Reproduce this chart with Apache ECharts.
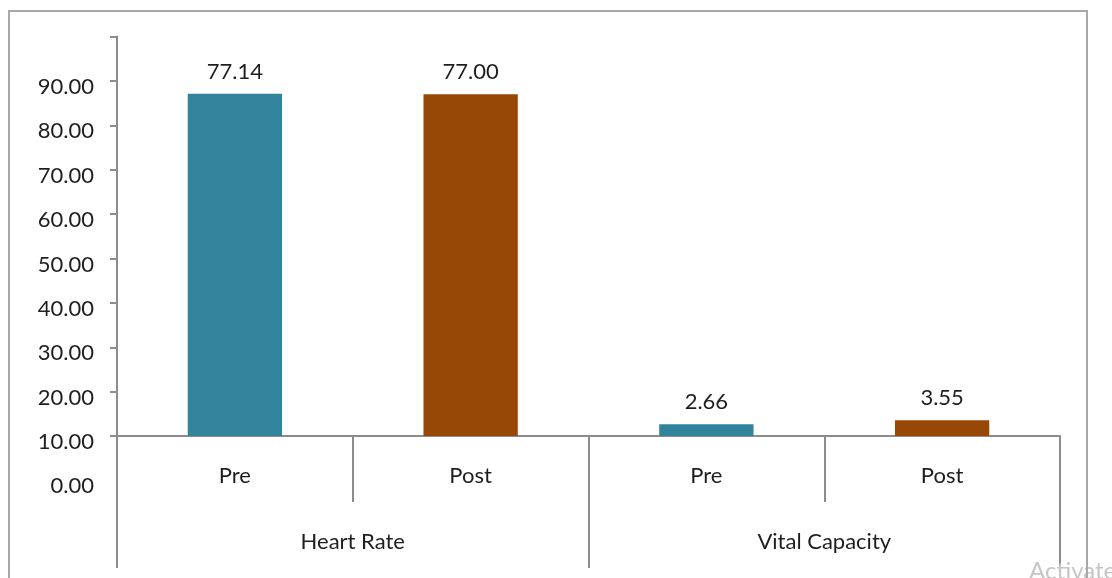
<!DOCTYPE html>
<html>
<head>
<meta charset="utf-8">
<script src="https://cdn.jsdelivr.net/npm/echarts@6/dist/echarts.min.js"></script>
<style>
  html, body { margin: 0; padding: 0; background: #fff; }
  #chart { width: 1112px; height: 578px; }
</style>
</head>
<body>
<div id="chart"></div>
<script>
// Measures and their Pre/Post sessions
const groups = ['Heart Rate', 'Vital Capacity'];
const sessions = ['Pre', 'Post', 'Pre', 'Post'];
const values = [77.14, 77.00, 2.66, 3.55];
const sessionColors = { Pre: '#31849b', Post: '#974806' };

// The category axis crosses the value axis at 10, so bars grow from there.
const crossAt = 10;
const yTickLabels = ['0.00', '10.00', '20.00', '30.00', '40.00', '50.00', '60.00', '70.00', '80.00', '90.00'];
const yTickValues = [0, 10, 20, 30, 40, 50, 60, 70, 80, 90, 100];

const axisGrey = '#8c8c8c';
const textColor = '#1e1e1e';
const font = 'Lato, "Open Sans", sans-serif';
const fontSize = 22;

// plot area: value range spans gridTop..(578 - gridBottom)
const gridTop = 36.6;
const gridBottom = 97.6;
const plotHeight = 578 - gridTop - gridBottom;
const yMin = yTickValues[0] - crossAt;
const yMax = yTickValues[yTickValues.length - 1] - crossAt;
// lift the category axes from the plot floor up to the crossing value
const crossLift = -plotHeight * (0 - yMin) / (yMax - yMin);

const chart = echarts.init(document.getElementById('chart'), null, { renderer: 'canvas' });

chart.setOption({
  animation: false,
  backgroundColor: '#ffffff',
  textStyle: { fontFamily: font },
  grid: {
    left: 117, right: 52, top: gridTop, bottom: gridBottom,
    containLabel: false, outerBoundsMode: 'none'
  },
  xAxis: [
    {
      type: 'category',
      data: sessions,
      position: 'bottom',
      offset: crossLift,
      axisLine: { onZero: false, lineStyle: { color: axisGrey, width: 2 } },
      axisTick: { show: true, interval: 0, length: 66, lineStyle: { color: axisGrey, width: 2 } },
      axisLabel: { interval: 0, margin: 29, fontSize: fontSize, color: textColor, fontFamily: font },
      splitLine: { show: false }
    },
    {
      type: 'category',
      data: groups,
      position: 'bottom',
      offset: crossLift,
      axisLine: { onZero: false, show: false },
      axisTick: { show: true, interval: 0, length: 132, lineStyle: { color: axisGrey, width: 2 } },
      axisLabel: { interval: 0, margin: 95, fontSize: fontSize, color: textColor, fontFamily: font },
      splitLine: { show: false }
    }
  ],
  yAxis: {
    type: 'value',
    min: yMin,
    max: yMax,
    interval: 10,
    axisLine: { show: true, onZero: false, lineStyle: { color: axisGrey, width: 2 } },
    axisTick: {
      show: true,
      length: 7,
      lineStyle: { color: axisGrey, width: 2 },
      customValues: yTickValues.slice(1).map(v => v - crossAt)
    },
    axisLabel: {
      margin: 23,
      fontSize: fontSize,
      color: textColor,
      fontFamily: font,
      // labels sit a little below their ticks
      verticalAlign: 'top',
      lineHeight: 12,
      customValues: yTickLabels.map((_, i) => yTickValues[i] - crossAt),
      formatter: v => {
        const i = yTickValues.indexOf(v + crossAt);
        return i >= 0 && i < yTickLabels.length ? yTickLabels[i] : '';
      }
    },
    splitLine: { show: false }
  },
  series: [
    {
      type: 'bar',
      xAxisIndex: 0,
      barWidth: '40%',
      data: values.map((v, i) => ({ value: v, itemStyle: { color: sessionColors[sessions[i]] } })),
      label: {
        show: true,
        position: 'top',
        distance: 11,
        fontSize: fontSize,
        color: textColor,
        fontFamily: font,
        formatter: p => p.value.toFixed(2)
      }
    }
  ],
  graphic: [
    {
      type: 'text',
      left: 1029,
      top: 559,
      z: 1,
      style: { text: 'Activate Windows', fontSize: 24, fill: '#c6c6c6', fontFamily: font }
    },
    {
      type: 'rect',
      z: 2,
      shape: { x: 9, y: 11, width: 1078, height: 620 },
      style: { fill: 'none', stroke: '#a8a8a8', lineWidth: 2 }
    }
  ]
});
</script>
</body>
</html>
